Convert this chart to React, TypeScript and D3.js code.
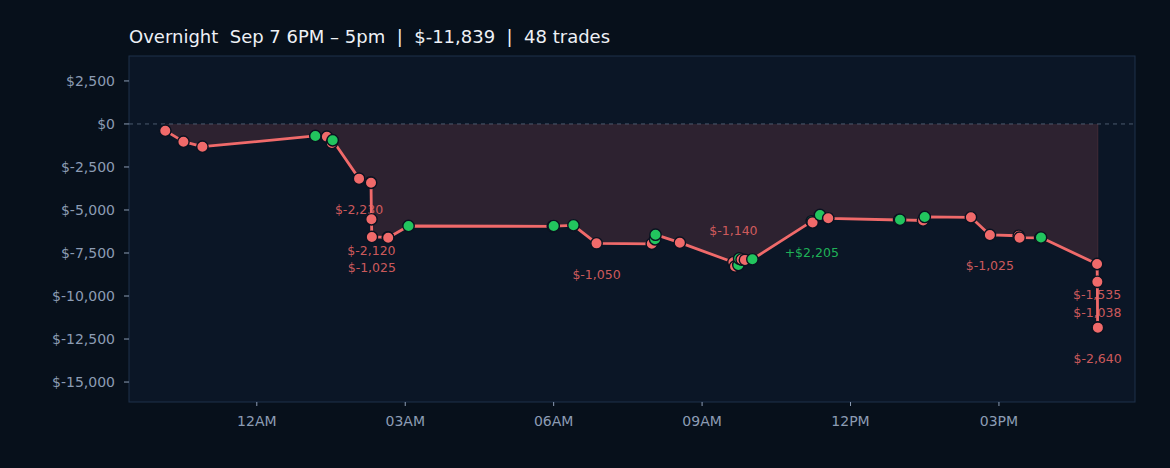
import React from "react";
import * as d3 from "d3";

const W = 1170;
const H = 468;

const TITLE = "Overnight  Sep 7 6PM \u2013 5pm  |  $-11,839  |  48 trades";

// Trade times (Sep 7 evening -> Sep 8 afternoon)
const tradeTimes = [
  "2025-09-07T22:09:00", "2025-09-07T22:31:00", "2025-09-07T22:54:00",
  "2025-09-08T01:11:00", "2025-09-08T01:25:00", "2025-09-08T01:31:00", "2025-09-08T01:32:00",
  "2025-09-08T02:04:00", "2025-09-08T02:18:00", "2025-09-08T02:18:30", "2025-09-08T02:19:00",
  "2025-09-08T02:19:30", "2025-09-08T02:39:00", "2025-09-08T02:39:20", "2025-09-08T03:04:00",
  "2025-09-08T05:59:00", "2025-09-08T06:00:00", "2025-09-08T06:24:00", "2025-09-08T06:52:00",
  "2025-09-08T07:59:00", "2025-09-08T08:03:00", "2025-09-08T08:03:30", "2025-09-08T08:33:00",
  "2025-09-08T09:38:00", "2025-09-08T09:40:00", "2025-09-08T09:44:00", "2025-09-08T09:45:00",
  "2025-09-08T09:48:00", "2025-09-08T09:52:00", "2025-09-08T10:01:00",
  "2025-09-08T11:13:00", "2025-09-08T11:14:00", "2025-09-08T11:23:00", "2025-09-08T11:33:00",
  "2025-09-08T12:59:00", "2025-09-08T13:00:00", "2025-09-08T13:28:00", "2025-09-08T13:30:00",
  "2025-09-08T14:26:00", "2025-09-08T14:49:00", "2025-09-08T15:24:00", "2025-09-08T15:25:00",
  "2025-09-08T15:50:00", "2025-09-08T15:51:00",
  "2025-09-08T16:59:00", "2025-09-08T16:59:20", "2025-09-08T16:59:40", "2025-09-08T17:00:00",
];

// Per-trade P&L in dollars
const tradePnl = [
  -390, -639, -291,
  622, -42, -365, 157,
  -2230, -212, -30, -2120,
  -1025, -25, -20, 680,
  -20, 15, 45, -1050,
  -25, 265, 264, -464,
  -1140, -240, 80, 380,
  -60, -20, 34,
  2205, -59, 429, -192,
  -98, 11, -40, 205,
  -20, -1025, -50, -110,
  -15, 21,
  -1535, -1038, -2640, -22,
];

// Trades whose annotation sits above the point (index into trades)
const labelAboveIdx = [23];
const LABEL_MIN = 1000;

const yTicks = [2500, 0, -2500, -5000, -7500, -10000, -12500, -15000];
const xDomain = ["2025-09-07T21:25:00", "2025-09-08T17:45:00"];
const yDomain = [-16160, 3950];

const parse = d3.timeParse("%Y-%m-%dT%H:%M:%S");
const locale = d3.formatLocale({ decimal: ".", thousands: ",", grouping: [3], currency: ["$", ""], minus: "-" });
const fmtComma = locale.format(",");

export default function App() {
  const margin = { left: 129, right: 1170 - 1135, top: 56, bottom: 468 - 402 };
  const x = d3
    .scaleTime()
    .domain(xDomain.map((s) => parse(s) as Date))
    .range([margin.left, W - margin.right]);
  const y = d3.scaleLinear().domain(yDomain).range([H - margin.bottom, margin.top]);

  let cum = 0;
  const pts = tradeTimes.map((t, i) => {
    cum += tradePnl[i];
    return { t: parse(t) as Date, pnl: tradePnl[i], cum, i };
  });

  const line = d3
    .line<(typeof pts)[0]>()
    .x((d) => x(d.t))
    .y((d) => y(d.cum));
  const area = d3
    .area<(typeof pts)[0]>()
    .x((d) => x(d.t))
    .y0(y(0))
    .y1((d) => y(d.cum));

  const xTicks = x
    .ticks(d3.timeHour.every(3) as any)
    .filter((d) => x(d) > margin.left + 5 && x(d) < W - margin.right - 5);
  const fmtX = d3.timeFormat("%I%p");
  const fmtMoney = (v: number) => "$" + fmtComma(v);

  const font = "'DejaVu Sans', sans-serif";
  const tickColor = "#8c9cb4";
  const red = "#f06a6a";
  const green = "#22c55e";

  const labels = pts.filter((p) => Math.abs(p.pnl) >= LABEL_MIN);

  return (
    <div style={{ position: "fixed", left: 0, top: 0, width: W, height: H }}>
      <svg width={W} height={H} style={{ display: "block" }}>
        <rect x={0} y={0} width={W} height={H} fill="#07101b" />
        <rect
          x={margin.left}
          y={margin.top}
          width={W - margin.left - margin.right}
          height={H - margin.top - margin.bottom}
          fill="#0b1626"
          stroke="#1e304b"
          strokeWidth={1}
        />
        <text
          x={margin.left}
          y={43}
          fill="#eef1f6"
          fontFamily={font}
          fontSize={18}
          style={{ whiteSpace: "pre" }}
        >
          {TITLE}
        </text>

        {/* y axis */}
        {yTicks.map((v) => (
          <g key={v}>
            <line x1={margin.left - 5} x2={margin.left} y1={y(v)} y2={y(v)} stroke={tickColor} strokeWidth={1} />
            <text
              x={margin.left - 14}
              y={y(v)}
              dy="0.35em"
              textAnchor="end"
              fill={tickColor}
              fontFamily={font}
              fontSize={14}
            >
              {fmtMoney(v)}
            </text>
          </g>
        ))}

        {/* x axis */}
        {xTicks.map((d) => (
          <g key={+d}>
            <line
              x1={x(d)}
              x2={x(d)}
              y1={H - margin.bottom}
              y2={H - margin.bottom + 4}
              stroke={tickColor}
              strokeWidth={1}
            />
            <text
              x={x(d)}
              y={H - margin.bottom + 24}
              textAnchor="middle"
              fill={tickColor}
              fontFamily={font}
              fontSize={14}
            >
              {fmtX(d)}
            </text>
          </g>
        ))}

        {/* area */}
        <path d={area(pts) || ""} fill={red} fillOpacity={0.15} />
        <line
          x1={x(pts[pts.length - 1].t)}
          x2={x(pts[pts.length - 1].t)}
          y1={y(0)}
          y2={y(pts[pts.length - 1].cum)}
          stroke={red}
          strokeOpacity={0.15}
        />

        {/* zero line */}
        <line
          x1={margin.left}
          x2={W - margin.right}
          y1={y(0)}
          y2={y(0)}
          stroke="#5a6a80"
          strokeWidth={1}
          strokeDasharray="4 4"
          strokeOpacity={0.8}
        />

        {/* annotations */}
        {labels.map((p) => {
          const above = labelAboveIdx.includes(p.i);
          return (
            <text
              key={p.i}
              x={x(p.t)}
              y={y(p.cum) + (above ? -32 : 31)}
              dy="0.35em"
              textAnchor="middle"
              fill={p.pnl > 0 ? green : "#e36363"}
              fillOpacity={0.9}
              fontFamily={font}
              fontSize={12.5}
            >
              {p.pnl > 0 ? "+$" + fmtComma(p.pnl) : "$" + fmtComma(p.pnl)}
            </text>
          );
        })}

        {/* line */}
        <path d={line(pts) || ""} fill="none" stroke={red} strokeWidth={2.8} strokeLinejoin="round" />

        {/* markers */}
        {pts.map((p) => (
          <circle
            key={p.i}
            cx={x(p.t)}
            cy={y(p.cum)}
            r={5.7}
            fill={p.pnl > 0 ? green : red}
            stroke="#0a1220"
            strokeWidth={1.4}
          />
        ))}
      </svg>
    </div>
  );
}
